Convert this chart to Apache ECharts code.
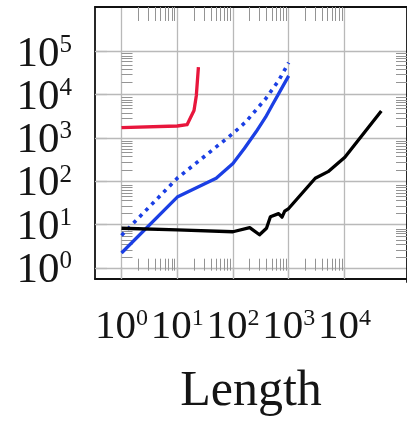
<!DOCTYPE html>
<html>
<head>
<meta charset="utf-8">
<script src="https://cdn.jsdelivr.net/npm/echarts@6/dist/echarts.min.js"></script>
<style>
  html, body { margin: 0; padding: 0; background: #ffffff; }
  #chart { width: 407px; height: 422px; }
</style>
</head>
<body>
<div id="chart"></div>
<script>
// Decade exponents that carry a grid line and a label
const decadesX = [0, 1, 2, 3, 4];
const decadesY = [0, 1, 2, 3, 4, 5];

// Red curve
const redX = [1, 10, 15, 20, 22, 24];
const redY = [1720, 1880, 2010, 4270, 9400, 43000];

// Blue solid curve
const blueX = [1, 10, 50, 100, 160, 260, 385, 500, 710, 1000];
const blueY = [2.2, 43, 117, 257, 570, 1380, 3000, 5500, 12300, 26900];

// Blue dotted curve
const dotX = [1, 10, 100, 170, 385, 660, 1000];
const dotY = [5.6, 117, 1260, 2340, 7940, 20900, 54300];

// Black curve
const blackX = [1, 10, 100, 200, 300, 400, 470, 660, 760, 850, 1000, 3000, 5100, 10200, 46000];
const blackY = [8.2, 7.5, 6.8, 8.5, 5.8, 8.2, 15.1, 17.8, 14.8, 20.4, 23.4, 117, 166, 355, 4170];

// Axes work in log10 units; minor ticks sit at log10(2..9) inside each decade
function minorTicks(decades) {
  const out = [];
  decades.forEach(function (d) {
    for (let k = 2; k <= 9; k++) out.push(d + Math.log10(k));
  });
  return out;
}
function toLog(xs, ys) {
  return xs.map(function (x, i) { return [Math.log10(x), Math.log10(ys[i])]; });
}

const SERIF = '"Liberation Serif", "DejaVu Serif", serif';
const X_MIN = -0.476, X_MAX = 5.124;
const Y_MIN = -0.258, Y_MAX = 6.021;
const GRID_BOX = { left: 95, top: 7, width: 314, height: 275 };
const GRID_COLOR = '#b9b9b9';
const TICK_COLOR = '#949494';
const FRAME = { show: true, onZero: false, lineStyle: { color: '#111', width: 1.8 } };

function powLabel(bigSize, supSize) {
  return {
    formatter: function (v) { return '{b|10}{s|' + Math.round(v) + '}'; },
    padding: [6, 0, 0, 0],
    rich: {
      b: { fontFamily: SERIF, fontSize: bigSize, lineHeight: bigSize, color: '#151515' },
      s: { fontFamily: SERIF, fontSize: supSize, lineHeight: 20, verticalAlign: 'top', color: '#151515' }
    }
  };
}

function minorAxis(position, values, gridIndex, min, max, showLine, len) {
  return {
    type: 'value', gridIndex: gridIndex, position: position, min: min, max: max,
    axisLine: showLine ? FRAME : { show: false },
    axisTick: { show: true, inside: true, length: len, customValues: values,
      lineStyle: { color: TICK_COLOR, width: 1 } },
    axisLabel: { show: false },
    splitLine: { show: false },
    minorTick: { show: false }
  };
}

const chart = echarts.init(document.getElementById('chart'), null, { renderer: 'canvas' });

const xMinor = minorTicks([0, 1, 2, 3]);
const yMinor = minorTicks([0, 1, 2, 3, 4]);

chart.setOption({
  animation: false,
  backgroundColor: '#ffffff',
  grid: [
    Object.assign({ containLabel: false }, GRID_BOX),
    Object.assign({ containLabel: false }, GRID_BOX)
  ],
  xAxis: [
    {
      type: 'value', gridIndex: 0, position: 'bottom', min: X_MIN, max: X_MAX,
      axisLine: FRAME,
      axisTick: { show: true, inside: true, length: 12, customValues: decadesX,
        lineStyle: { color: GRID_COLOR, width: 1.3 } },
      axisLabel: Object.assign({ customValues: decadesX, margin: 22 }, powLabel(41, 24)),
      splitLine: { show: true, lineStyle: { color: GRID_COLOR, width: 1.3 } },
      name: 'Length', nameLocation: 'middle', nameGap: 88,
      nameTextStyle: { fontFamily: SERIF, fontSize: 50, color: '#151515' }
    },
    minorAxis('bottom', xMinor, 1, X_MIN, X_MAX, false, 12),
    minorAxis('top', xMinor, 1, X_MIN, X_MAX, true, 14)
  ],
  yAxis: [
    {
      type: 'value', gridIndex: 0, position: 'left', min: Y_MIN, max: Y_MAX,
      axisLine: FRAME,
      axisTick: { show: true, inside: true, length: 12, customValues: decadesY,
        lineStyle: { color: GRID_COLOR, width: 1.3 } },
      axisLabel: Object.assign({ customValues: decadesY, margin: 23 }, powLabel(43, 25)),
      splitLine: { show: true, lineStyle: { color: GRID_COLOR, width: 1.3 } }
    },
    minorAxis('left', yMinor, 1, Y_MIN, Y_MAX, false, 11),
    minorAxis('right', yMinor, 1, Y_MIN, Y_MAX, true, 11)
  ],
  series: [
    {
      type: 'line', xAxisIndex: 0, yAxisIndex: 0, data: toLog(redX, redY),
      showSymbol: false, lineStyle: { color: '#e8163c', width: 3.3, join: 'round' }
    },
    {
      type: 'line', xAxisIndex: 0, yAxisIndex: 0, data: toLog(dotX, dotY),
      showSymbol: false, lineStyle: { color: '#1b3fe4', width: 3.6, type: [3.6, 5], cap: 'butt' }
    },
    {
      type: 'line', xAxisIndex: 0, yAxisIndex: 0, data: toLog(blueX, blueY),
      showSymbol: false, lineStyle: { color: '#1b3fe4', width: 3.3, join: 'round' }
    },
    {
      type: 'line', xAxisIndex: 0, yAxisIndex: 0, data: toLog(blackX, blackY),
      showSymbol: false, lineStyle: { color: '#000000', width: 3.3, join: 'round' }
    }
  ]
});
</script>
</body>
</html>
